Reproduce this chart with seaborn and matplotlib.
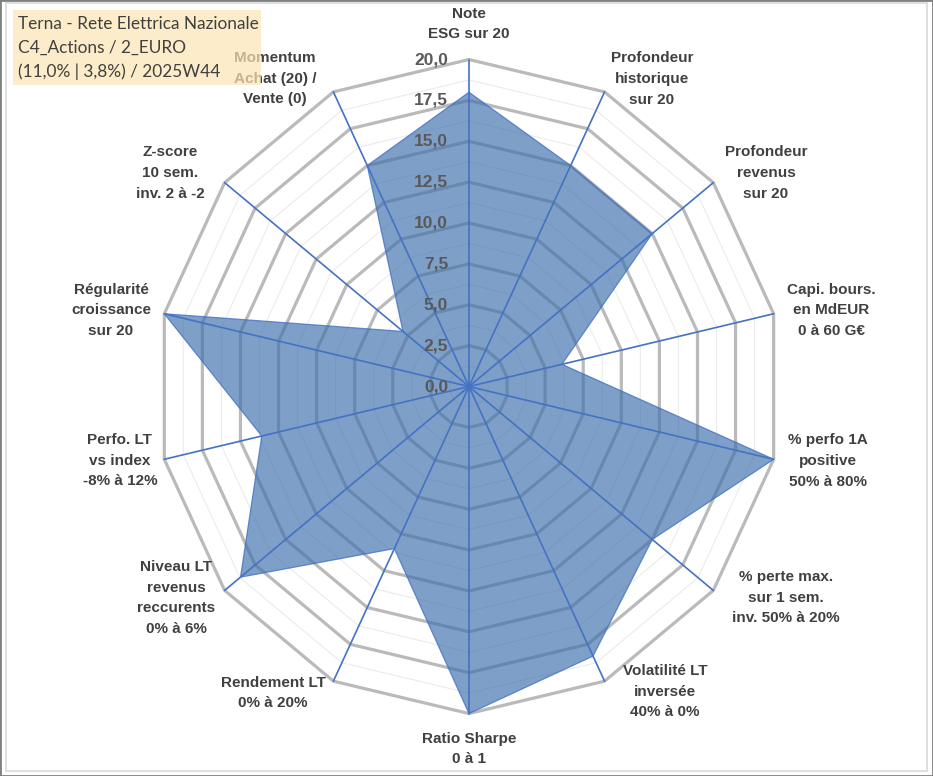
import numpy as np
import matplotlib
matplotlib.use("Agg")
import matplotlib.pyplot as plt
import seaborn as sns
from matplotlib.patches import Rectangle

# ----------- Data -----------
categories = [
    "Note\nESG sur 20",
    "Profondeur\nhistorique\nsur 20",
    "Profondeur\nrevenus\nsur 20",
    "Capi. bours.\nen MdEUR\n0 à 60 G€",
    "% perfo 1A\npositive\n50% à 80%",
    "% perte max.\nsur 1 sem.\ninv. 50% à 20%",
    "Volatilité LT\ninversée\n40% à 0%",
    "Ratio Sharpe\n0 à 1",
    "Rendement LT\n0% à 20%",
    "Niveau LT\nrevenus\nreccurents\n0% à 6%",
    "Perfo. LT\nvs index\n-8% à 12%",
    "Régularité\ncroissance\nsur 20",
    "Z-score\n10 sem.\ninv. 2 à -2",
    "Momentum\nAchat (20) /\nVente (0)",
]
scores = [18.0, 15.0, 15.0, 6.1, 20.0, 15.0, 18.3, 20.0, 11.0, 18.7, 13.6, 20.0, 5.4, 15.0]
levels = [0.0, 2.5, 5.0, 7.5, 10.0, 12.5, 15.0, 17.5, 20.0]
level_labels = ["0,0", "2,5", "5,0", "7,5", "10,0", "12,5", "15,0", "17,5", "20,0"]
title_lines = ["Terna - Rete Elettrica Nazionale",
               "C4_Actions / 2_EURO",
               "(11,0% | 3,8%) / 2025W44"]

# label placement (angle clockwise from top, radius in score units)
label_angle = [0, 31.9, 55.5, 78.6, 101.2, 122.5, 146.1, 180, 213.8, 235.4, 258.5, 281.5, 304.3, 326.6]
label_r = [22.17, 22.16, 23.06, 23.64, 23.42, 24.06, 22.5, 22.17, 22.55, 22.78, 22.8, 23.38, 23.17, 22.54]

# ----------- Style -----------
sns.set_theme(style="white")
plt.rcParams['font.family'] = ['Liberation Sans', 'DejaVu Sans']

W, H = 933, 776
fig = plt.figure(figsize=(W / 100, H / 100), dpi=100)
fig.patch.set_facecolor("white")

ax = fig.add_axes([0.1677, 0.0805, 0.6699, 0.8428], projection="polar")
ax.set_aspect("auto")
ax.set_theta_zero_location("N")
ax.set_theta_direction(-1)
ax.set_ylim(0, 20)
ax.grid(False)
ax.set_xticks([])
ax.set_yticks([])
ax.spines["polar"].set_visible(False)
ax.patch.set_alpha(0)

n = len(categories)
theta = np.linspace(0, 2 * np.pi, n, endpoint=False)
ring = np.append(theta, theta[0])

# minor rings
for a, b in zip(levels[:-1], levels[1:]):
    ax.plot(ring, [(a + b) / 2] * (n + 1), color="#EBEBEB", lw=0.8, zorder=1, clip_on=False)
# major rings
for lv in levels[1:]:
    ax.plot(ring, [lv] * (n + 1), color="#BABABA", lw=2.3, zorder=2, clip_on=False)

# series
vals = scores + [scores[0]]
ax.fill(ring, vals, facecolor="#3C6EAA", alpha=0.66, edgecolor="none", zorder=3, clip_on=False)
ax.plot(ring, vals, color="#4472C4", lw=0.9, alpha=0.8, zorder=3, clip_on=False)

# spokes
for t in theta:
    ax.plot([t, t], [0, 20], color="#4472C4", lw=1.2, zorder=4, clip_on=False)

# value labels
for lv, lab in zip(levels, level_labels):
    ax.annotate(lab, xy=(0, lv), xytext=(-15, 0), textcoords="offset points",
                ha="right", va="center", fontsize=12.5, fontweight="bold",
                color="#595959", zorder=5)

# category labels
for lab, ang, r in zip(categories, label_angle, label_r):
    ax.text(np.deg2rad(ang), r, lab, ha="center", va="center", multialignment="center",
            fontsize=11, fontweight="bold", color="#404040", linespacing=1.6)

# ----------- Title box -----------
fig.patches.append(Rectangle((13 / W, 1 - 85 / H), 248 / W, 75 / H, transform=fig.transFigure,
                             facecolor="#FDE4B4", alpha=0.7, edgecolor="none", zorder=5))
for i, line in enumerate(title_lines):
    fig.text(18 / W, 1 - (24 + 24 * i) / H, line, ha="left", va="center",
             fontsize=12.4, color="#404040", family=["Lato", "DejaVu Sans"], zorder=6)

# frames
fig.patches.append(Rectangle((6 / W, 5 / H), 921 / W, 768 / H, transform=fig.transFigure,
                             fill=False, edgecolor="#D9D9D9", lw=1.2, zorder=6))
fig.patches.append(Rectangle((0, 0), 1, 1, transform=fig.transFigure,
                             fill=False, edgecolor="#808080", lw=2, zorder=6))

fig.savefig("out.png", dpi=100)
